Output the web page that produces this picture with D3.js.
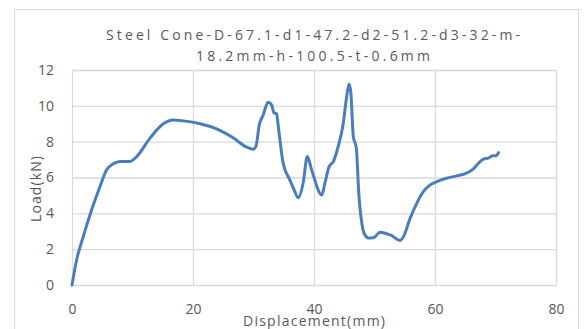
<!DOCTYPE html>
<html>
<head>
<meta charset="utf-8">
<script src="https://cdn.jsdelivr.net/npm/d3@7"></script>
<style>
  html, body { margin: 0; padding: 0; background: #fff; }
  svg { display: block; }
  text { font-family: "Open Sans", "Liberation Sans", sans-serif; fill: #595959; }
</style>
</head>
<body>
<svg id="chart" width="585" height="329"></svg>
<script>
// Load–displacement curve of the steel cone specimen
const displacement = [0, 0.77, 1.87, 3.25, 4.63, 5.73, 6.8, 7.93, 9.6, 10.7, 12.9, 15.1, 16.75, 18.4, 21.2, 23.9, 26.7, 28.9, 30.0, 30.4, 30.96, 31.6, 32.4, 33.0, 33.4, 33.8, 34.1, 34.9, 36.0, 36.6, 37.4, 38.2, 38.9, 39.6, 41.3, 41.8, 42.5, 43.2, 44.0, 44.8, 45.4, 45.8, 46.1, 46.5, 47.0, 47.4, 47.9, 48.4, 49.0, 49.9, 50.9, 52.0, 52.8, 53.6, 54.2, 54.8, 55.9, 57.0, 58.1, 59.2, 60.3, 61.9, 63.6, 65.2, 66.3, 67.2, 68.0, 68.8, 69.6, 70.1, 70.5];
const load = [0, 1.41, 2.71, 4.2, 5.5, 6.43, 6.76, 6.9, 6.9, 7.17, 8.2, 9.0, 9.21, 9.16, 9.0, 8.71, 8.2, 7.69, 7.58, 7.73, 8.94, 9.49, 10.2, 10.05, 9.59, 9.59, 8.84, 6.8, 5.87, 5.41, 4.87, 5.68, 7.17, 6.43, 5.03, 5.68, 6.61, 6.89, 7.73, 8.94, 10.51, 11.22, 10.7, 8.28, 7.64, 5.13, 3.46, 2.8, 2.62, 2.65, 2.95, 2.86, 2.77, 2.58, 2.49, 2.71, 3.73, 4.57, 5.22, 5.59, 5.77, 5.96, 6.09, 6.24, 6.47, 6.8, 7.02, 7.08, 7.21, 7.21, 7.39];
const xTicks = [0, 20, 40, 60, 80];
const yTicks = [0, 2, 4, 6, 8, 10, 12];
const titleLines = ["Steel Cone-D-67.1-d1-47.2-d2-51.2-d3-32-m-", "18.2mm-h-100.5-t-0.6mm"];
const xTitle = "Displacement(mm)";
const yTitle = "Load(kN)";

const svg = d3.select("#chart");
const plot = { left: 72, right: 556, top: 70, bottom: 285 };

const x = d3.scaleLinear().domain([0, 80]).range([plot.left, plot.right]);
const y = d3.scaleLinear().domain([0, 12]).range([plot.bottom, plot.top]);

// chart frame
svg.append("rect")
  .attr("x", 14.5).attr("y", 9.5)
  .attr("width", 564).attr("height", 340)
  .attr("fill", "#fff").attr("stroke", "#d9d9d9").attr("stroke-width", 1);

// gridlines
svg.append("g")
  .attr("transform", `translate(0,${plot.bottom})`)
  .call(d3.axisBottom(x).tickValues(xTicks).tickSize(-(plot.bottom - plot.top)).tickFormat(""))
  .call(g => g.select(".domain").remove())
  .call(g => g.selectAll("line").attr("stroke", "#d9d9d9").attr("stroke-width", 1.3));

svg.append("g")
  .attr("transform", `translate(${plot.left},0)`)
  .call(d3.axisLeft(y).tickValues(yTicks).tickSize(-(plot.right - plot.left)).tickFormat(""))
  .call(g => g.select(".domain").remove())
  .call(g => g.selectAll("line").attr("stroke", "#d9d9d9").attr("stroke-width", 1.3));

// tick labels
svg.append("g")
  .attr("transform", `translate(0,${plot.bottom})`)
  .call(d3.axisBottom(x).tickValues(xTicks).tickSize(0).tickPadding(19).tickFormat(d3.format("d")))
  .call(g => g.select(".domain").remove())
  .call(g => g.selectAll("text")
    .attr("font-family", "'Open Sans', sans-serif").attr("font-size", 14).attr("fill", "#595959"));

svg.append("g")
  .attr("transform", `translate(${plot.left},0)`)
  .call(d3.axisLeft(y).tickValues(yTicks).tickSize(0).tickPadding(18).tickFormat(d3.format("d")))
  .call(g => g.select(".domain").remove())
  .call(g => g.selectAll("text")
    .attr("font-family", "'Open Sans', sans-serif").attr("font-size", 14).attr("fill", "#595959"));

// data line
const pts = displacement.map((d, i) => [d, load[i]]);
svg.append("path")
  .datum(pts)
  .attr("fill", "none")
  .attr("stroke", "#4a7ebb")
  .attr("stroke-width", 3)
  .attr("stroke-linejoin", "round")
  .attr("stroke-linecap", "round")
  .attr("d", d3.line().x(d => x(d[0])).y(d => y(d[1])).curve(d3.curveMonotoneX));

// title
svg.append("text")
  .attr("x", 313).attr("y", 40)
  .attr("text-anchor", "middle")
  .attr("font-size", 14)
  .attr("textLength", 414).attr("lengthAdjust", "spacing")
  .text(titleLines[0]);
svg.append("text")
  .attr("x", 313).attr("y", 61)
  .attr("text-anchor", "middle")
  .attr("font-size", 14)
  .attr("textLength", 234).attr("lengthAdjust", "spacing")
  .text(titleLines[1]);

// axis titles
svg.append("text")
  .attr("x", 314).attr("y", 326)
  .attr("text-anchor", "middle")
  .attr("font-size", 14)
  .attr("textLength", 142).attr("lengthAdjust", "spacing")
  .text(xTitle);

svg.append("text")
  .attr("transform", "translate(41,189) rotate(-90)")
  .attr("text-anchor", "middle")
  .attr("font-size", 14)
  .attr("textLength", 66).attr("lengthAdjust", "spacing")
  .text(yTitle);
</script>
</body>
</html>
